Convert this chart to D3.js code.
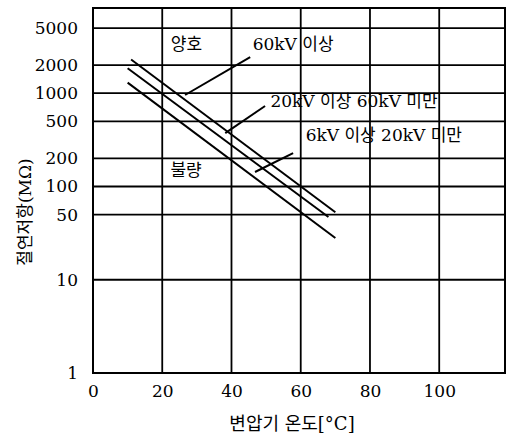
<!DOCTYPE html>
<html>
<head>
<meta charset="utf-8">
<script src="https://cdn.jsdelivr.net/npm/d3@7"></script>
<style>
body{margin:0;background:#fff;}
text{font-family:"DejaVu Serif","Noto Sans CJK KR",serif;fill:#000;}
</style>
</head>
<body>
<svg id="chart" width="511" height="444"></svg>
<script>
// ---- data ----
const xTicks = [0, 20, 40, 60, 80, 100];
const yTicks = [1, 10, 50, 100, 200, 500, 1000, 2000, 5000];
const seriesNames = ["60kV 이상", "20kV 이상 60kV 미만", "6kV 이상 20kV 미만"];
const line60kV = [[11, 2300], [70, 53]];
const line20kV = [[10, 1850], [68, 47]];
const line6kV  = [[10, 1300], [70, 28]];
const pointers = [
  [[45.4, 2440], [26.6, 957]],
  [[49.7, 730], [38.2, 374]],
  [[57.8, 228], [46.8, 143]]
];
const seriesLabelPos = [[57.8, 3370], [75.4, 825], [84, 356]];
const zoneLabels = ["양호", "불량"];
const zoneLabelPos = [[27, 3370], [26.9, 150]];
const xTitle = "변압기 온도[°C]";
const yTitle = "절연저항(MΩ)";

// ---- layout ----
const svg = d3.select("#chart");
const L = 93, R = 505, T = 8, B = 373;
const x = d3.scaleLinear().domain([0, 119]).range([L, R]);
const y = d3.scaleLog().domain([1, 8200]).range([B, T]);

const g = svg.append("g");
// grid
g.selectAll("line.h").data(yTicks).join("line")
  .attr("x1", L).attr("x2", R).attr("y1", d => y(d)).attr("y2", d => y(d))
  .attr("stroke", "#000").attr("stroke-width", 1.8);
g.selectAll("line.v").data(xTicks.filter(d => d > 0)).join("line")
  .attr("y1", T).attr("y2", B).attr("x1", d => x(d)).attr("x2", d => x(d))
  .attr("stroke", "#000").attr("stroke-width", 1.8);
g.append("rect").attr("x", L).attr("y", T).attr("width", R - L).attr("height", B - T)
  .attr("fill", "none").attr("stroke", "#000").attr("stroke-width", 2);

// axes labels via d3 axes
const yAxis = svg.append("g").attr("transform", `translate(${L},0)`)
  .call(d3.axisLeft(y).tickValues(yTicks).tickFormat(d3.format("d")).tickSize(0).tickPadding(15));
const xAxis = svg.append("g").attr("transform", `translate(0,${B})`)
  .call(d3.axisBottom(x).tickValues(xTicks).tickFormat(d3.format("d")).tickSize(0).tickPadding(12));
[yAxis, xAxis].forEach(a => {
  a.select(".domain").remove();
  a.selectAll("text").attr("font-size", 17).attr("font-family", "DejaVu Serif");
});

// data lines
const lineGen = d3.line().x(d => x(d[0])).y(d => y(d[1]));
[line60kV, line20kV, line6kV].forEach(s => {
  svg.append("path").attr("d", lineGen(s)).attr("fill", "none")
    .attr("stroke", "#000").attr("stroke-width", 2);
});
pointers.forEach(p => {
  svg.append("path").attr("d", lineGen(p)).attr("fill", "none")
    .attr("stroke", "#000").attr("stroke-width", 2);
});

// labels
seriesNames.forEach((n, i) => {
  svg.append("text").attr("x", x(seriesLabelPos[i][0])).attr("y", y(seriesLabelPos[i][1]))
    .attr("text-anchor", "middle").attr("dominant-baseline", "central")
    .attr("font-size", 17).text(n);
});
zoneLabels.forEach((n, i) => {
  svg.append("text").attr("x", x(zoneLabelPos[i][0])).attr("y", y(zoneLabelPos[i][1]))
    .attr("text-anchor", "middle").attr("dominant-baseline", "central")
    .attr("font-size", 17).text(n);
});

// titles
svg.append("text").attr("x", 292).attr("y", 423)
  .attr("text-anchor", "middle").attr("dominant-baseline", "central")
  .attr("font-size", 18).text(xTitle);
svg.append("text").attr("transform", "translate(25,212) rotate(-90)")
  .attr("text-anchor", "middle").attr("dominant-baseline", "central")
  .attr("font-size", 17).text(yTitle);
</script>
</body>
</html>
